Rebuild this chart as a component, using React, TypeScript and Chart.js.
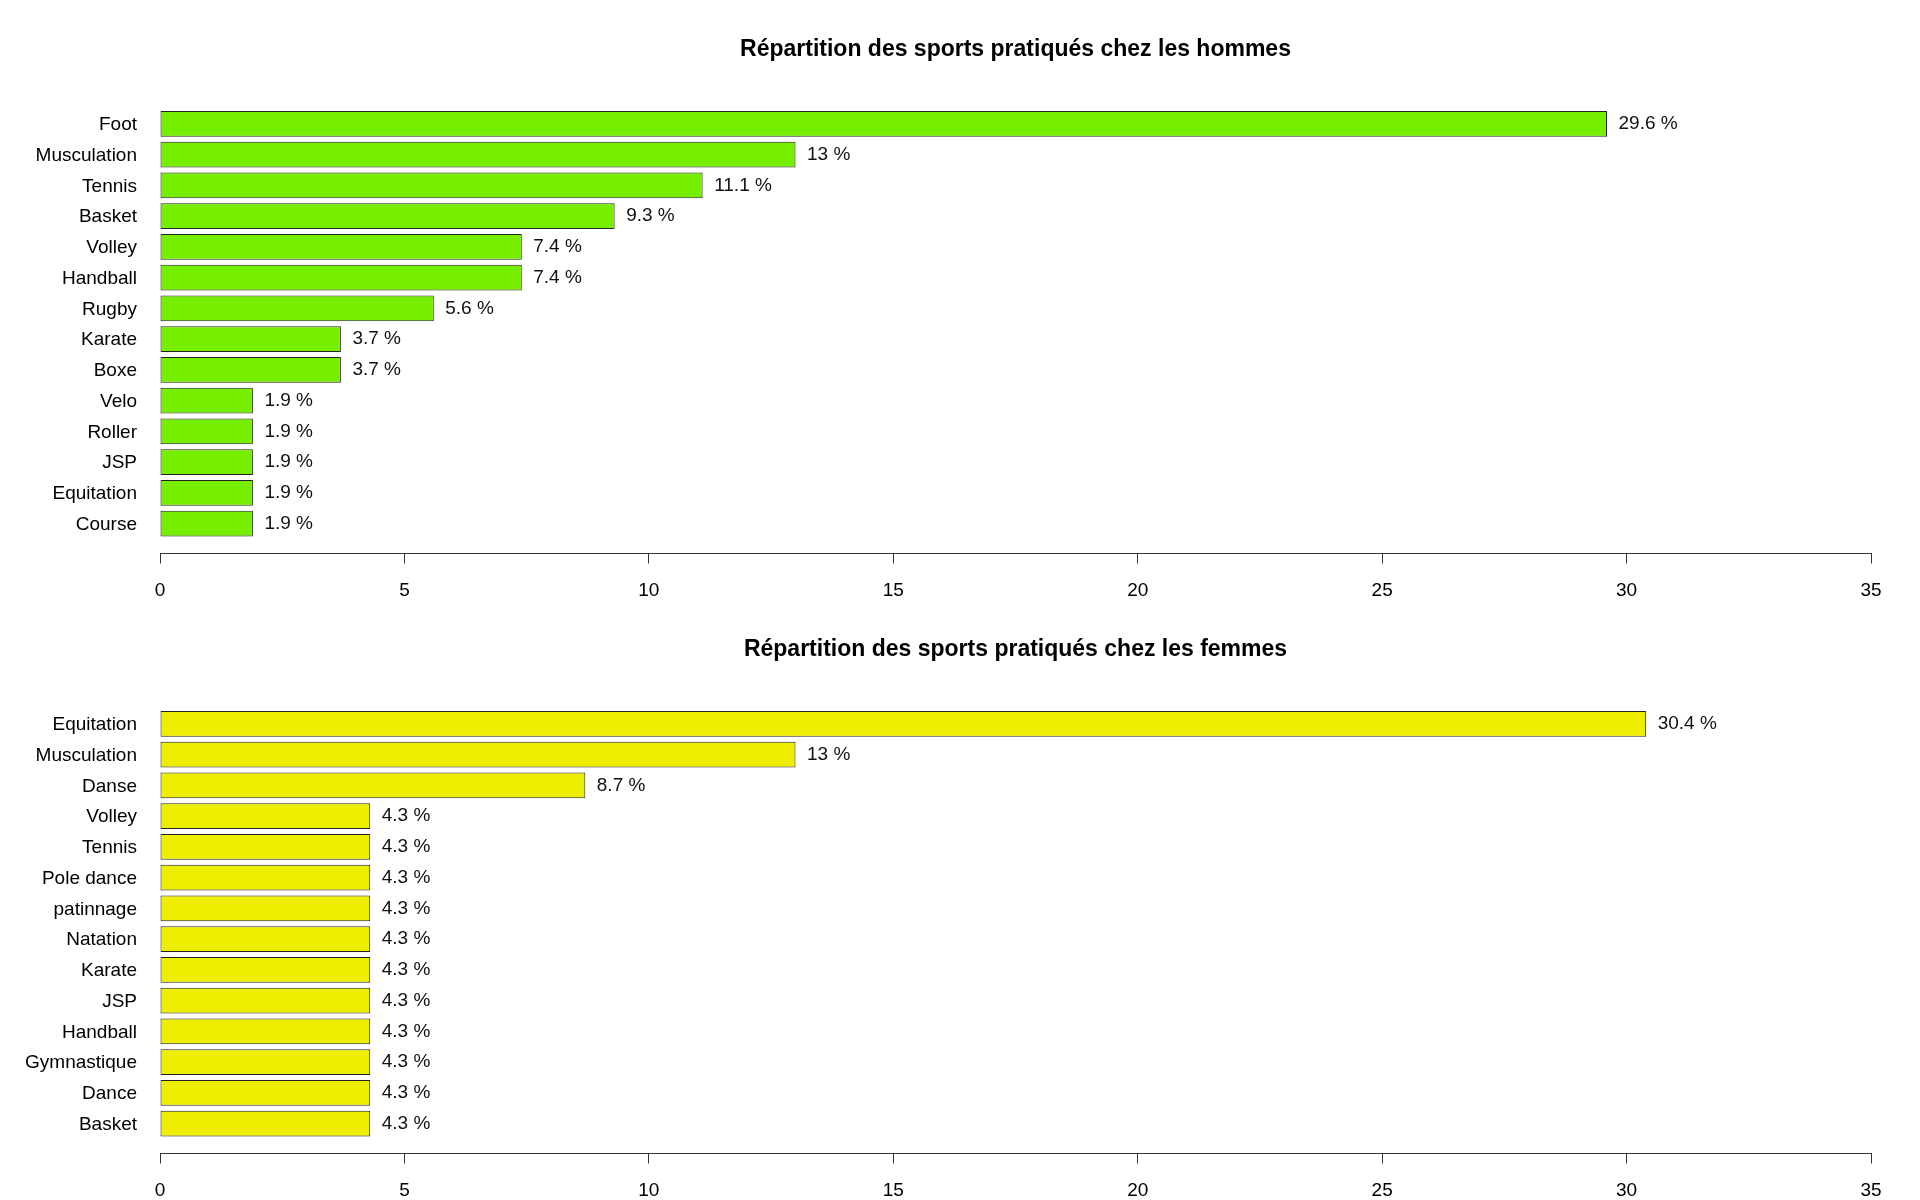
import React, { useEffect, useRef } from "react";
import { Chart, registerables } from "chart.js";

Chart.register(...registerables);

const menTitle = "Répartition des sports pratiqués chez les hommes";
const menCategories = [
  "Foot", "Musculation", "Tennis", "Basket", "Volley", "Handball", "Rugby",
  "Karate", "Boxe", "Velo", "Roller", "JSP", "Equitation", "Course",
];
const menValues = [29.6, 13, 11.1, 9.3, 7.4, 7.4, 5.6, 3.7, 3.7, 1.9, 1.9, 1.9, 1.9, 1.9];

const womenTitle = "Répartition des sports pratiqués chez les femmes";
const womenCategories = [
  "Equitation", "Musculation", "Danse", "Volley", "Tennis", "Pole dance", "patinnage",
  "Natation", "Karate", "JSP", "Handball", "Gymnastique", "Dance", "Basket",
];
const womenValues = [30.4, 13, 8.7, 4.3, 4.3, 4.3, 4.3, 4.3, 4.3, 4.3, 4.3, 4.3, 4.3, 4.3];

const xMin = 0;
const xMax = 35;
const xStep = 5;

const FONT = "'Liberation Sans', Arial, Helvetica, sans-serif";

function Panel({ title, categories, values, color }: { title: string; categories: string[]; values: number[]; color: string }) {
  const ref = useRef<HTMLCanvasElement | null>(null);
  useEffect(() => {
    if (!ref.current) return;
    const pad = 0.97;
    const valueLabels = {
      id: "valueLabels",
      afterDatasetsDraw(chart: any) {
        const ctx = chart.ctx;
        const meta = chart.getDatasetMeta(0);
        ctx.save();
        ctx.font = `19px ${FONT}`;
        ctx.fillStyle = "#111";
        ctx.textAlign = "left";
        ctx.textBaseline = "middle";
        meta.data.forEach((bar: any, i: number) => {
          ctx.fillText(`${values[i]} %`, bar.x + 11.5, bar.y);
        });
        ctx.restore();
      },
    };
    const chart = new Chart(ref.current, {
      type: "bar",
      data: {
        datasets: [
          {
            data: values.map((v, i) => ({ x: v, y: i })),
            backgroundColor: color,
            borderColor: "#222",
            borderWidth: 1,
            borderSkipped: false,
            categoryPercentage: 1,
            barPercentage: 0.833,
          },
        ],
      },
      options: {
        indexAxis: "y",
        responsive: false,
        animation: false,
        devicePixelRatio: 1,
        layout: { padding: { left: 0, right: 49, top: 0, bottom: 0 } },
        plugins: {
          legend: { display: false },
          tooltip: { enabled: false },
          title: {
            display: true,
            text: title,
            fullSize: false,
            color: "#000",
            font: { family: FONT, size: 23, weight: "bold", lineHeight: 1.2 },
            padding: { top: 35.5, bottom: 30.9 },
          },
        },
        scales: {
          x: {
            type: "linear",
            position: "bottom",
            offset: false,
            min: xMin,
            max: xMax,
            ticks: {
              stepSize: xStep,
              color: "#000",
              font: { family: FONT, size: 19, lineHeight: 1.2 },
              padding: 15.5,
              maxRotation: 0,
            },
            grid: {
              display: true,
              offset: false,
              drawOnChartArea: false,
              drawTicks: true,
              tickLength: 10,
              color: "#333",
              lineWidth: 1,
            },
            border: { display: true, color: "#333", width: 1 },
            afterFit(scale: any) {
              scale.height = 46.5;
            },
          },
          y: {
            type: "linear",
            reverse: true,
            offset: false,
            min: -pad,
            max: categories.length - 1 + pad,
            afterBuildTicks(scale: any) {
              scale.ticks = categories.map((_, i) => ({ value: i }));
            },
            ticks: {
              autoSkip: false,
              color: "#000",
              font: { family: FONT, size: 19 },
              padding: 23,
              labelOffset: 1,
              callback: (v: any) => categories[v as number] ?? "",
            },
            grid: { display: false, drawTicks: false, offset: false },
            border: { display: false },
            afterFit(scale: any) {
              scale.width = 160;
            },
          },
        },
      } as any,
      plugins: [valueLabels],
    });
    return () => chart.destroy();
  }, [title, categories, values, color]);
  return <canvas ref={ref} width={1920} height={600} style={{ display: "block", width: 1920, height: 600 }} />;
}

export default function App() {
  return (
    <div style={{ position: "absolute", left: 0, top: 0, width: 1920, height: 1200, background: "#fff" }}>
      <Panel title={menTitle} categories={menCategories} values={menValues} color="#76EE00" />
      <Panel title={womenTitle} categories={womenCategories} values={womenValues} color="#EEEE00" />
    </div>
  );
}
